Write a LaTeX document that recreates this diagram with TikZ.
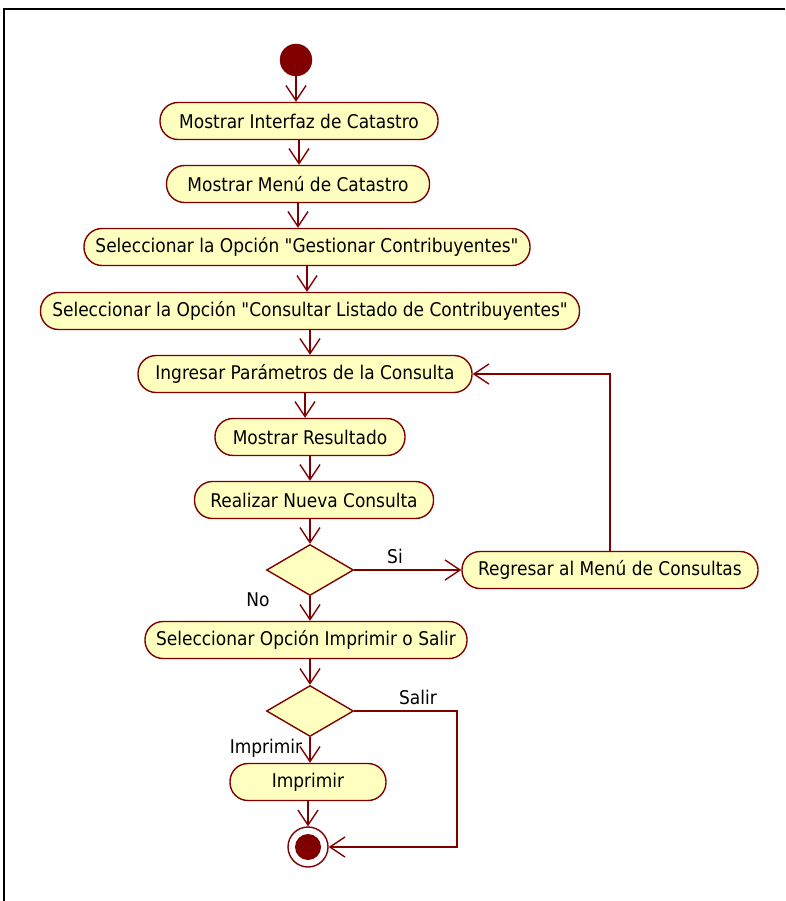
\documentclass[tikz,border=0pt]{standalone}
\usepackage{fontspec}
% plain family: no TeX ligature mapping, so straight quotes stay straight
\newfontfamily\labelfont{DejaVu Sans Condensed}
\usetikzlibrary{arrows.meta,shapes.geometric}
\definecolor{umlred}{HTML}{800000}
\definecolor{umlfill}{HTML}{FFFFC0}
\begin{document}
\begin{tikzpicture}[x=1pt,y=-1pt,
  font=\labelfont\fontsize{18.9}{23}\selectfont,
  action/.style={draw=umlred, fill=umlfill, line width=1.4pt,
    rounded corners=18pt, minimum height=37pt, inner sep=0pt},
  choice/.style={diamond, draw=umlred, fill=umlfill, line width=1.4pt,
    minimum width=87pt, minimum height=51pt, inner sep=0pt},
  startnode/.style={circle, draw=umlred, fill=umlred, minimum size=32pt, inner sep=0pt},
  endnode/.style={circle, draw=umlred, fill=white, line width=1.4pt, minimum size=40pt, inner sep=0pt},
  flow/.style={draw=umlred, line width=1.4pt,
    -{Straight Barb[length=15pt,width=20pt,line width=1.4pt]}},
  guard/.style={inner sep=0pt}]
\useasboundingbox (0,0) rectangle (785,901);
% frame
\draw[line width=2pt] (4,901) -- (4,9) -- (785,9);

% activities
\node[startnode] (start) at (296,60) {};
\node[action, minimum width=278pt] (n1) at (299,121) {Mostrar Interfaz de Catastro};
\node[action, minimum width=263pt] (n2) at (298,184) {Mostrar Menú de Catastro};
\node[action, minimum width=446pt] (n3) at (307,247) {Seleccionar la Opción "Gestionar Contribuyentes"};
\node[action, minimum width=539pt] (n4) at (310,311) {Seleccionar la Opción "Consultar Listado de Contribuyentes"};
\node[action, minimum width=334pt] (n5) at (305,374) {Ingresar Parámetros de la Consulta};
\node[action, minimum width=190pt] (n6) at (310,437) {Mostrar Resultado};
\node[action, minimum width=239pt] (n7) at (314,500) {Realizar Nueva Consulta};
\node[choice] (d1) at (310,570) {};
\node[action, minimum width=296pt] (n8) at (610,570) {Regresar al Menú de Consultas};
\node[action, minimum width=322pt] (n9) at (306,640) {Seleccionar Opción Imprimir o Salir};
\node[choice] (d2) at (310,711) {};
\node[action, minimum width=156pt] (n10) at (308,782) {Imprimir};
\node[endnode] (endn) at (308,847) {};
\fill[umlred] (endn.center) circle (13pt);
\coordinate (exitx) at (457,711);

% guards
\node[guard] (lsi) at (395,556) {Si};
\node[guard] (lno) at (258,600) {No};
\node[guard] (lsalir) at (418,697) {Salir};
\node[guard] (limp) at (266,748) {Imprimir};

% control flows
\draw[flow] (start) -- (start |- n1.north);
\draw[flow] (n1.south) -- (n1.south |- n2.north);
\draw[flow] (n2.south) -- (n2.south |- n3.north);
\draw[flow] (n3.south) -- (n3.south |- n4.north);
\draw[flow] (n4.south) -- (n4.south |- n5.north);
\draw[flow] (n5.south) -- (n5.south |- n6.north);
\draw[flow] (n6.south) -- (n6.south |- n7.north);
\draw[flow] (d1.north |- n7.south) -- (d1.north);
\draw[flow] (d1.east) -- (n8.west);
\draw[flow] (d1.south) -- (d1.south |- n9.north);
\draw[flow] (n8.north) -- (n8.north |- n5.east) -- (n5.east);
\draw[flow] (d2.north |- n9.south) -- (d2.north);
\draw[flow] (d2.south) -- (d2.south |- n10.north);
\draw[flow] (n10.south) -- (endn.north);
\draw[flow] (d2.east) -- (exitx) -- (exitx |- endn) -- (endn.east);
\end{tikzpicture}
\end{document}
